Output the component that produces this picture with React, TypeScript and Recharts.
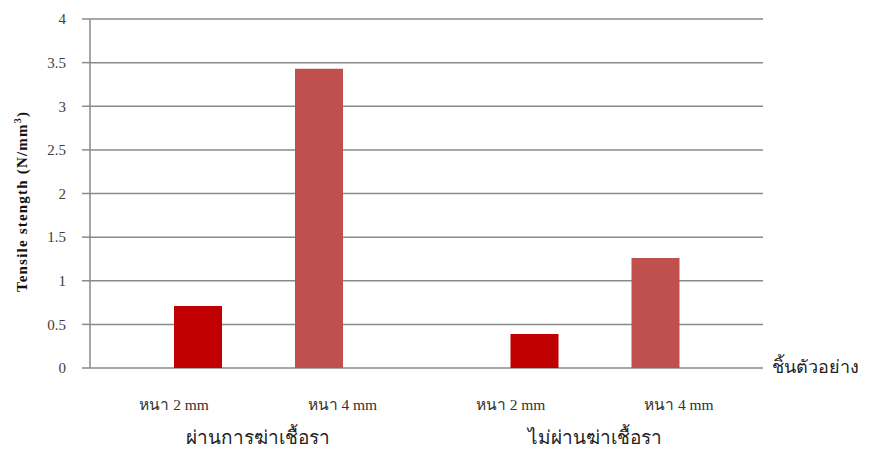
import React from "react";
import { BarChart, Bar, XAxis, YAxis, CartesianGrid, Label } from "recharts";

// two sample groups, each tested at two thicknesses
const groups = ["ผ่านการฆ่าเชื้อรา", "ไม่ผ่านฆ่าเชื้อรา"];
const thin2 = [0.71, 0.39];
const thin4 = [3.43, 1.26];
const subLabels = ["หนา 2 mm", "หนา 4 mm"];
const yTicks = [0, 0.5, 1, 1.5, 2, 2.5, 3, 3.5, 4];

const data = groups.map((g, i) => ({ group: g, thin2: thin2[i], thin4: thin4[i] }));

const W = 869;
const H = 449;
const MARGIN = { top: 19, right: 106, left: 0, bottom: 0 };
const Y_WIDTH = 90;
const GRID = "#8a8a8a";
const SERIF = "'Liberation Serif', 'Times New Roman', serif";

// group name plus the two thickness labels under each half of the band
function GroupTick(props: any) {
    const { x, y, payload } = props;
    const half = payload && payload.offset
        ? payload.offset
        : (W - MARGIN.right - Y_WIDTH) / groups.length / 2;
    return (
        <g>
            {subLabels.map((s, i) => (
                <text
                    key={i}
                    x={x + (i === 0 ? -half / 2 : half / 2)}
                    y={y + 42}
                    textAnchor="middle"
                    fontSize={15.5}
                    fill="#333"
                    fontFamily={SERIF}
                >
                    {s}
                </text>
            ))}
            <text
                x={x}
                y={y + 76}
                textAnchor="middle"
                fontSize={19}
                fill="#222"
                fontFamily={SERIF}
            >
                {payload.value}
            </text>
        </g>
    );
}

export default function App() {
    return (
        <div style={{ position: "absolute", left: 0, top: 0, background: "#fff" }}>
            <BarChart
                width={W}
                height={H}
                data={data}
                margin={MARGIN}
                barSize={48}
                barGap={73}
            >
                <CartesianGrid vertical={false} stroke={GRID} strokeWidth={1.5} />
                <XAxis
                    dataKey="group"
                    axisLine={false}
                    tickLine={false}
                    tickSize={0}
                    tickMargin={0}
                    height={81}
                    interval={0}
                    tick={<GroupTick />}
                >
                    <Label
                        content={(props: any) => {
                            const vb = props.viewBox || {};
                            return (
                                <text
                                    x={vb.x + vb.width + 9}
                                    y={vb.y + 5}
                                    fontSize={18}
                                    fill="#222"
                                    fontFamily={SERIF}
                                >
                                    ชิ้นตัวอย่าง
                                </text>
                            );
                        }}
                    />
                </XAxis>
                <YAxis
                    domain={[0, 4]}
                    ticks={yTicks}
                    width={Y_WIDTH}
                    axisLine={{ stroke: GRID, strokeWidth: 1.5 }}
                    tickLine={{ stroke: GRID, strokeWidth: 1.5 }}
                    tickSize={8}
                    tickMargin={16}
                    tick={{ fontSize: 15, fill: "#404040", fontFamily: SERIF }}
                >
                    <Label
                        content={(props: any) => {
                            const vb = props.viewBox || {};
                            const cy = vb.y + vb.height / 2 + 8;
                            return (
                                <text
                                    x={27}
                                    y={cy}
                                    transform={`rotate(-90, 27, ${cy})`}
                                    textAnchor="middle"
                                    fontSize={15}
                                    fontWeight="bold"
                                    letterSpacing={1.2}
                                    fill="#111"
                                    fontFamily={SERIF}
                                >
                                    Tensile stength (N/mm
                                    <tspan dy={-6} fontSize={10}>3</tspan>
                                    <tspan dy={6}>)</tspan>
                                </text>
                            );
                        }}
                    />
                </YAxis>
                <Bar dataKey="thin2" fill="#C00000" isAnimationActive={false} />
                <Bar dataKey="thin4" fill="#C0504D" isAnimationActive={false} />
            </BarChart>
        </div>
    );
}
